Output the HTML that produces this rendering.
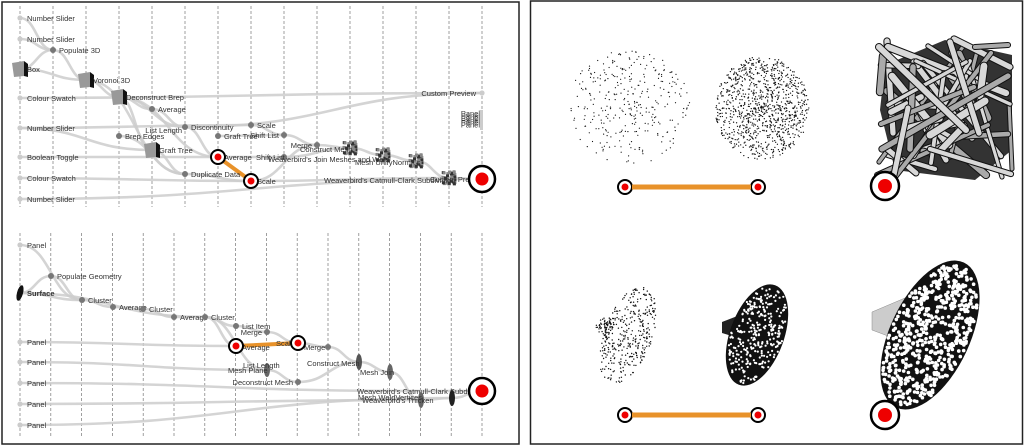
<!DOCTYPE html>
<html><head><meta charset="utf-8"><style>
body{margin:0;background:#fff;width:1024px;height:446px;overflow:hidden}
svg{position:absolute;left:0;top:0}
text{font-family:"Liberation Sans",sans-serif;font-size:7.5px;fill:#333}
</style></head><body>
<svg id="s" width="1024" height="446" viewBox="0 0 1024 446" xmlns="http://www.w3.org/2000/svg">
<rect x="2" y="2" width="517" height="442" fill="#fff" stroke="#222" stroke-width="1.5"/>
<rect x="530.5" y="1" width="492" height="443" fill="#fff" stroke="#222" stroke-width="1.5"/>
<g id="g"></g>
</svg>
<script>
var g=document.getElementById('g'),h='';
function P(s){h+=s}
for(var i=0;i<15;i++){var x=20+i*33.0;P('<line x1="'+x+'" y1="6" x2="'+x+'" y2="207" stroke="#777" stroke-width="0.7" stroke-dasharray="3,2"/>');}
for(var i=0;i<16;i++){var x=20+i*30.8;P('<line x1="'+x+'" y1="233" x2="'+x+'" y2="436" stroke="#777" stroke-width="0.7" stroke-dasharray="3,2"/>');}
function E(a,b,c,d){var m=(c-a)*0.5;P('<path d="M'+a+' '+b+' C'+(a+m)+' '+b+' '+(c-m)+' '+d+' '+c+' '+d+'" fill="none" stroke="#ccc" stroke-width="2.6" stroke-opacity="0.85"/>');}
var te=[[20,18,53,50],[20,39,53,50],[20,69,53,50],[53,50,86,80],[20,69,86,80],[86,80,119,97],[86,80,185,174],[20,98,482,93],[119,97,152,109],[119,97,185,127],[119,97,152,150],[119,97,218,157],[20,128,251,125],[20,128,152,150],[152,109,185,127],[185,127,482,93],[185,127,218,157],[119,136,185,174],[20,157,218,157],[218,136,284,135],[251,125,284,135],[284,135,317,145],[317,145,350,148],[350,148,383,155],[383,155,416,161],[416,161,449,178],[449,178,482,179],[20,178,251,181],[185,174,251,181],[251,181,449,178],[251,181,317,145],[218,157,284,157],[284,157,350,148],[20,199,482,179],[152,150,185,174]];
te.forEach(function(e){E(e[0],e[1],e[2],e[3])});
var be=[[20,245,82,300],[20,293,51,276],[51,276,82,300],[20,293,82,300],[82,300,113,307],[113,307,143,309],[143,309,174,317],[20,293,205,317],[174,317,205,317],[205,317,236,326],[236,326,267,332],[267,332,298,343],[298,343,328,347],[328,347,359,362],[205,317,267,370],[205,317,236,346],[20,342,236,346],[20,362,267,370],[267,370,298,382],[298,382,359,362],[359,362,390,372],[390,372,421,400],[20,383,421,391],[421,391,482,391],[20,404,421,400],[421,400,452,398],[452,398,482,391],[20,425,452,398]];
be.forEach(function(e){E(e[0],e[1],e[2],e[3])});
P('<line x1="218" y1="157" x2="251" y2="181" stroke="#e8922a" stroke-width="4"/>');
P('<line x1="236" y1="346" x2="298" y2="343" stroke="#e8922a" stroke-width="4"/>');
function L(x,y,t){P('<circle cx="'+x+'" cy="'+y+'" r="2.6" fill="#ccc"/><text x="'+(x+7)+'" y="'+(y+3)+'">'+t+'</text>');}
function N(x,y,t,left){P('<circle cx="'+x+'" cy="'+y+'" r="3" fill="#777"/>');if(t)P('<text x="'+(left?x-5:x+6)+'" y="'+(y+3)+'"'+(left?' text-anchor="end"':'')+'>'+t+'</text>');}
function C(x,y,t){P('<polygon points="'+(x-8)+','+(y-6)+' '+(x+4)+','+(y-8)+' '+(x+4)+','+(y+7)+' '+(x-6)+','+(y+8)+'" fill="#999"/><polygon points="'+(x+4)+','+(y-8)+' '+(x+8)+','+(y-5)+' '+(x+8)+','+(y+8)+' '+(x+4)+','+(y+7)+'" fill="#111"/>');if(t)P('<text x="'+(x+7)+'" y="'+(y+3)+'">'+t+'</text>');}
function M(x,y){for(var k=0;k<30;k++){var a=Math.sin(k*12.9)*6,b=Math.cos(k*7.3)*6;P('<rect x="'+(x+a-1.5)+'" y="'+(y+b-1.5)+'" width="3" height="3" fill="'+(k%2?'#333':'#888')+'"/>');}}
function R(x,y,r){P('<circle cx="'+x+'" cy="'+y+'" r="'+r+'" fill="#fff" stroke="#000" stroke-width="'+(r>10?2.5:2)+'"/><circle cx="'+x+'" cy="'+y+'" r="'+(r*0.5)+'" fill="#e00"/>');}
L(20,18,'Number Slider');L(20,39,'Number Slider');N(53,50,'Populate 3D');C(20,69,'Box');C(86,80,'Voronoi 3D');
L(20,98,'Colour Swatch');C(119,97,'Deconstruct Brep');N(152,109,'Average');L(20,128,'Number Slider');
N(185,127,'Discontinuity');P('<text x="182" y="133" text-anchor="end">List Length</text>');N(251,125,'Scale');N(119,136,'Brep Edges');N(218,136,'Graft Tree');
N(284,135,'Shift List',true);N(317,145,'Merge',true);M(350,148);P('<text x="300" y="152">Construct Mesh</text>');C(152,150,'Graft Tree');
L(20,157,'Boolean Toggle');P('<text x="224" y="160">Average</text>');N(284,157,'');P('<text x="256" y="160">Shift List</text>');
M(383,155);P('<text x="268" y="162">Weaverbird\'s Join Meshes and Weld</text>');M(416,161);P('<text x="355" y="165">Mesh UnifyNormals</text>');
N(185,174,'Duplicate Data');L(20,178,'Colour Swatch');P('<text x="257" y="184">Scale</text>');M(449,178);P('<text x="324" y="183">Weaverbird\'s Catmull-Clark Subdivision</text><text x="430" y="182">Custom Preview</text>');
L(20,199,'Number Slider');P('<circle cx="482" cy="93" r="2.6" fill="#ccc"/><text x="476" y="96" text-anchor="end">Custom Preview</text>');
for(var k=0;k<6;k++)P('<text x="480" y="'+(116+k*2.3)+'" text-anchor="end" font-size="6">Panel</text>');P('<rect x="480" y="110" width="3" height="20" fill="#ccc"/>');
R(218,157,7);R(251,181,7);R(482,179,13);
L(20,245,'Panel');N(51,276,'Populate Geometry');P('<ellipse cx="20" cy="293" rx="3" ry="8" fill="#111" transform="rotate(15 20 293)"/><text x="27" y="296" font-weight="bold">Surface</text>');
N(82,300,'Cluster');N(113,307,'Average');N(143,309,'Cluster');N(174,317,'Average');N(205,317,'Cluster');N(236,326,'List Item');N(267,332,'Merge',true);
L(20,342,'Panel');P('<text x="242" y="350">Average</text><text x="276" y="346">Scale</text>');N(328,347,'');P('<text x="304" y="350">Merge</text>');
L(20,362,'Panel');P('<ellipse cx="267" cy="370" rx="3" ry="7" fill="#666"/><text x="228" y="373">Mesh Plane</text><text x="243" y="368">List Length</text>');
P('<ellipse cx="359" cy="362" rx="3" ry="8" fill="#555"/><text x="307" y="366">Construct Mesh</text><ellipse cx="390" cy="372" rx="3" ry="8" fill="#666"/><text x="360" y="375">Mesh Join</text>');
L(20,383,'Panel');N(298,382,'Deconstruct Mesh',true);P('<text x="357" y="394">Weaverbird\'s Catmull-Clark Subdivision</text>');
L(20,404,'Panel');P('<ellipse cx="421" cy="400" rx="3" ry="8" fill="#666"/><ellipse cx="452" cy="398" rx="3" ry="8" fill="#222"/><text x="358" y="400">Mesh WeldVertices</text><text x="362" y="403">Weaverbird\'s Thicken</text>');
L(20,425,'Panel');R(236,346,7);R(298,343,7);R(482,391,13);
// right panel
var sd=7;function rnd(){sd=(sd*16807)%2147483647;return sd/2147483647;}
function cloud(cx,cy,rx,ry,n,r){for(var k=0;k<n;k++){var a=rnd()*6.283,d=Math.pow(rnd(),0.6);P('<circle cx="'+(cx+Math.cos(a)*d*rx).toFixed(1)+'" cy="'+(cy+Math.sin(a)*d*ry).toFixed(1)+'" r="'+r+'" fill="#111"/>');}}
cloud(628,108,62,58,330,0.6);cloud(762,108,47,52,1000,0.65);
// lattice
P('<polygon points="885,65 945,40 1012,55 1012,150 975,180 895,170 880,110" fill="#333"/>');
for(var k=0;k<45;k++){var x1=875+rnd()*140,y1=38+rnd()*140,x2=875+rnd()*140,y2=38+rnd()*140;var w=(3+rnd()*4);
P('<line x1="'+x1.toFixed(0)+'" y1="'+y1.toFixed(0)+'" x2="'+x2.toFixed(0)+'" y2="'+y2.toFixed(0)+'" stroke="#111" stroke-width="'+(w+2).toFixed(1)+'" stroke-linecap="round"/>');
P('<line x1="'+x1.toFixed(0)+'" y1="'+y1.toFixed(0)+'" x2="'+x2.toFixed(0)+'" y2="'+y2.toFixed(0)+'" stroke="'+(k%3?'#d8d8d8':'#aaa')+'" stroke-width="'+w.toFixed(1)+'" stroke-linecap="round"/>');}
function funnel(cx,cy,rx,ry,rot,nx,ny,dens,fill,dot,col,nd){var t=rot*Math.PI/180;if(fill)P('<ellipse cx="'+cx+'" cy="'+cy+'" rx="'+rx+'" ry="'+ry+'" fill="'+fill+'" transform="rotate('+rot+' '+cx+' '+cy+')"/>');
 for(var k=0;k<dens;k++){var a=rnd()*6.283,d=Math.sqrt(rnd())*0.95;var x=Math.cos(a)*d*rx,y=Math.sin(a)*d*ry;var X=cx+x*Math.cos(t)-y*Math.sin(t),Y=cy+x*Math.sin(t)+y*Math.cos(t);P('<circle cx="'+X.toFixed(1)+'" cy="'+Y.toFixed(1)+'" r="'+dot+'" fill="'+col+'"/>');}
 if(nd)cloud(nx,ny,10,8,nd,0.7);}
funnel(628,335,26,53,20,605,326,350,null,0.7,'#111',60);
P('<polygon points="722,322 740,315 745,340 722,333" fill="#222"/>');
funnel(757,335,27,53,20,0,0,300,'#111',1.1,'#fff',0);
P('<polygon points="872,312 905,298 912,345 872,330" fill="#ccc" stroke="#888" stroke-width="0.5"/>');
funnel(930,335,40,80,25,0,0,600,'#111',1.8,'#fff',0);
R(625,187,7);R(758,187,7);P('<line x1="632" y1="187" x2="751" y2="187" stroke="#e8922a" stroke-width="5"/>');R(885,186,14);
R(625,415,7);R(758,415,7);P('<line x1="632" y1="415" x2="751" y2="415" stroke="#e8922a" stroke-width="5"/>');R(885,415,14);
g.innerHTML=h;
</script>
</body></html>
